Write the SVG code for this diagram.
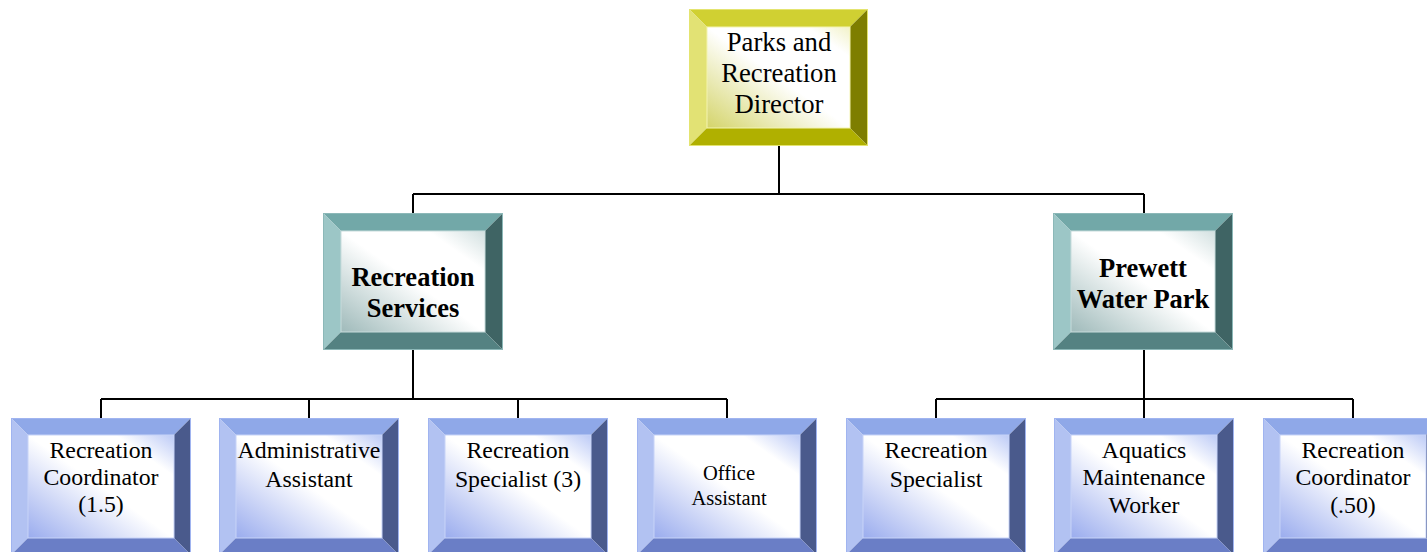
<svg xmlns="http://www.w3.org/2000/svg" xmlns:xlink="http://www.w3.org/1999/xlink" width="1427" height="552" viewBox="0 0 1427 552">
<defs>
<linearGradient id="gY" x1="0" y1="1" x2="1" y2="0"><stop offset="0" stop-color="#D4D46A"/><stop offset="0.5" stop-color="#FFFFFF"/><stop offset="0.85" stop-color="#FFFFFF"/><stop offset="1" stop-color="#F2F2C8"/></linearGradient>
<linearGradient id="gT" x1="0" y1="1" x2="1" y2="0"><stop offset="0" stop-color="#9FBABA"/><stop offset="0.5" stop-color="#FFFFFF"/><stop offset="0.8" stop-color="#FFFFFF"/><stop offset="1" stop-color="#D2E0E0"/></linearGradient>
<linearGradient id="gB" x1="0" y1="1" x2="1" y2="0"><stop offset="0" stop-color="#9AACEE"/><stop offset="0.5" stop-color="#FFFFFF"/><stop offset="0.8" stop-color="#FFFFFF"/><stop offset="1" stop-color="#BCCAF6"/></linearGradient>
<style>
.t{fill:#D0D032}.l{fill:#E2E274}.r{fill:#7E7E00}.b{fill:#B0B000}
.tt{fill:#72A8A8}.tl{fill:#9CC6C6}.tr{fill:#3F6464}.tb{fill:#548282}
.bt{fill:#8FA8E8}.bl{fill:#B2C2F2}.br{fill:#4A5A8C}.bb{fill:#6A7EC6}
.fy{fill:url(#gY);stroke:#F4F4B0;stroke-width:1}
.ft{fill:url(#gT);stroke:#C8DCDC;stroke-width:1}
.fb{fill:url(#gB);stroke:#C8D4F8;stroke-width:1}
.oy{fill:none;stroke:#E4E470;stroke-width:1}
.ot{fill:none;stroke:#8CB8B8;stroke-width:1}
.ob{fill:none;stroke:#A0B4F0;stroke-width:1}
text{font-family:"Liberation Serif","Times New Roman",serif;fill:#000;text-anchor:middle}
.s26{font-size:26.7px}.s27b{font-size:26.5px;font-weight:bold}.s23{font-size:23.8px}.s19{font-size:20.5px}
.c{fill:none;stroke:#000;stroke-width:2}
</style>
<g id="frameY">
<polygon class="t" points="0,0 179,0 161,18 18,18"/>
<polygon class="l" points="0,0 18,18 18,119 0,137"/>
<polygon class="r" points="179,0 179,137 161,119 161,18"/>
<polygon class="b" points="0,137 18,119 161,119 179,137"/>
<rect class="fy" x="18" y="18" width="143" height="101"/>
<rect class="oy" x="0.5" y="0.5" width="178" height="136"/>
</g>
<g id="frameT">
<polygon class="tt" points="0,0 180,0 162,18 18,18"/>
<polygon class="tl" points="0,0 18,18 18,119 0,137"/>
<polygon class="tr" points="180,0 180,137 162,119 162,18"/>
<polygon class="tb" points="0,137 18,119 162,119 180,137"/>
<rect class="ft" x="18" y="18" width="144" height="101"/>
<rect class="ot" x="0.5" y="0.5" width="179" height="136"/>
</g>
<g id="frameB">
<polygon class="bt" points="0,0 180,0 163,17 17,17"/>
<polygon class="bl" points="0,0 17,17 17,120 0,137"/>
<polygon class="br" points="180,0 180,137 163,120 163,17"/>
<polygon class="bb" points="0,137 17,120 163,120 180,137"/>
<rect class="fb" x="17" y="17" width="146" height="103"/>
<rect class="ob" x="0.5" y="0.5" width="179" height="136"/>
</g>
</defs>
<g id="connectors">
<path class="c" d="M779 146V194M413 194H1144M413 194V213M1144 194V213"/>
<path class="c" d="M413 350V399M101 399H727M101 399V418M309 399V418M518 399V418M727 399V418"/>
<path class="c" d="M1144 350V399M936 399H1353M936 399V418M1144 399V418M1353 399V418"/>
</g>
<g id="director">
<use xlink:href="#frameY" transform="translate(689,9)"/>
<text class="s26" x="779" y="51">Parks and</text>
<text class="s26" x="779" y="82">Recreation</text>
<text class="s26" x="779" y="113">Director</text>
</g>
<g id="recreation-services">
<use xlink:href="#frameT" transform="translate(323,213)"/>
<text class="s27b" x="413" y="286">Recreation</text>
<text class="s27b" x="413" y="317">Services</text>
</g>
<g id="prewett-water-park">
<use xlink:href="#frameT" transform="translate(1053,213)"/>
<text class="s27b" x="1143" y="277">Prewett</text>
<text class="s27b" x="1143" y="308">Water Park</text>
</g>
<g id="rec-coordinator-1">
<use xlink:href="#frameB" transform="translate(11,418)"/>
<text class="s23" x="101" y="458">Recreation</text>
<text class="s23" x="101" y="485">Coordinator</text>
<text class="s23" x="101" y="512">(1.5)</text>
</g>
<g id="admin-assistant">
<use xlink:href="#frameB" transform="translate(219,418)"/>
<text class="s23" x="309" y="458">Administrative</text>
<text class="s23" x="309" y="487">Assistant</text>
</g>
<g id="rec-specialist-3">
<use xlink:href="#frameB" transform="translate(428,418)"/>
<text class="s23" x="518" y="458">Recreation</text>
<text class="s23" x="518" y="487">Specialist (3)</text>
</g>
<g id="office-assistant">
<use xlink:href="#frameB" transform="translate(637,418)"/>
<text class="s19" x="729" y="480">Office</text>
<text class="s19" x="729" y="505">Assistant</text>
</g>
<g id="rec-specialist">
<use xlink:href="#frameB" transform="translate(846,418)"/>
<text class="s23" x="936" y="458">Recreation</text>
<text class="s23" x="936" y="487">Specialist</text>
</g>
<g id="aquatics-worker">
<use xlink:href="#frameB" transform="translate(1054,418)"/>
<text class="s23" x="1144" y="458">Aquatics</text>
<text class="s23" x="1144" y="485">Maintenance</text>
<text class="s23" x="1144" y="513">Worker</text>
</g>
<g id="rec-coordinator-50">
<use xlink:href="#frameB" transform="translate(1263,418)"/>
<text class="s23" x="1353" y="458">Recreation</text>
<text class="s23" x="1353" y="485">Coordinator</text>
<text class="s23" x="1353" y="513">(.50)</text>
</g>
</svg>
